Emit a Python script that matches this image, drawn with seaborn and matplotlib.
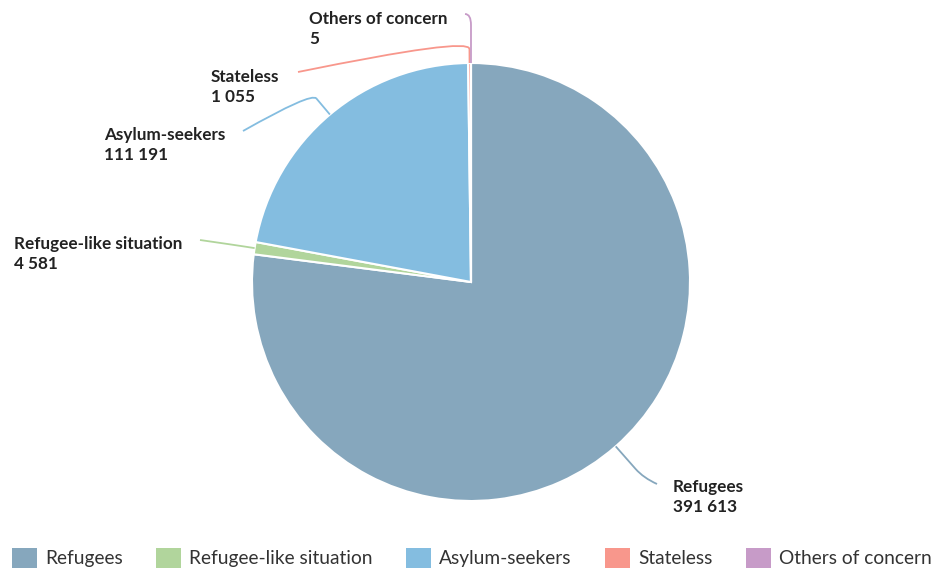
import numpy as np
import matplotlib
matplotlib.use("Agg")
import matplotlib.pyplot as plt
import seaborn as sns
from matplotlib.path import Path
from matplotlib.patches import PathPatch, Patch

categories = ["Refugees", "Refugee-like situation", "Asylum-seekers", "Stateless", "Others of concern"]
values = [391613, 4581, 111191, 1055, 5]
colors = ["#86a7bd", "#b1d59c", "#84bde0", "#f8978c", "#c79bc8"]

# label layout (pixel coords, y down): text anchor (left, middle) and connector end
label_pos = [(673, 497), (14, 254), (104, 145), (211, 87), (309, 29)]
line_end = [(657, 484), (200, 240), (243, 131), (298, 72), (465, 14)]
elbow_len = [30, 10, 21, 14, 38]
ctrl_len = [12, 10, 8, 12, 11]

W, H = 938, 571
cx, cy, R = 471, 282, 219

sns.set_theme(style="white")
plt.rcParams["font.family"] = ["Lato", "DejaVu Sans"]

fig = plt.figure(figsize=(W / 100, H / 100), dpi=100)
ax = fig.add_axes([0, 0, 1, 1])

ax.pie(values, center=(cx, H - cy), radius=R, startangle=90, counterclock=False,
       colors=colors, wedgeprops=dict(edgecolor="white", linewidth=1.5))
ax.set_xlim(0, W)
ax.set_ylim(0, H)
ax.set_aspect("equal")
ax.axis("off")

total = sum(values)
cum = np.cumsum([0] + values[:-1])
for i, cat in enumerate(categories):
    mid = (cum[i] + values[i] / 2) / total * 2 * np.pi  # clockwise from top
    d = np.array([np.sin(mid), np.cos(mid)])
    start = np.array([cx, H - cy]) + d * R
    elbow = start + d * elbow_len[i]
    ctrl = elbow + d * ctrl_len[i]
    end = np.array([line_end[i][0], H - line_end[i][1]])
    path = Path([start, elbow, ctrl, end],
                [Path.MOVETO, Path.LINETO, Path.CURVE3, Path.CURVE3])
    ax.add_patch(PathPatch(path, facecolor="none", edgecolor=colors[i], lw=1.3))
    txt = cat + "\n" + f"{values[i]:,}".replace(",", " ")
    ax.text(label_pos[i][0], H - label_pos[i][1], txt, ha="left", va="center",
            fontsize=12.3, fontweight="bold", color="#222222", linespacing=1.35)

handles = [Patch(facecolor=c, edgecolor="none") for c in colors]
fig.legend(handles, categories, loc="center left", bbox_to_anchor=(12 / W, 1 - 558 / H),
           ncol=5, frameon=False, fontsize=13.8, handlelength=1.3, handleheight=1.25,
           handletextpad=0.42, columnspacing=1.75, borderpad=0, borderaxespad=0,
           labelcolor="#333333")

fig.savefig("out.png", dpi=100)
